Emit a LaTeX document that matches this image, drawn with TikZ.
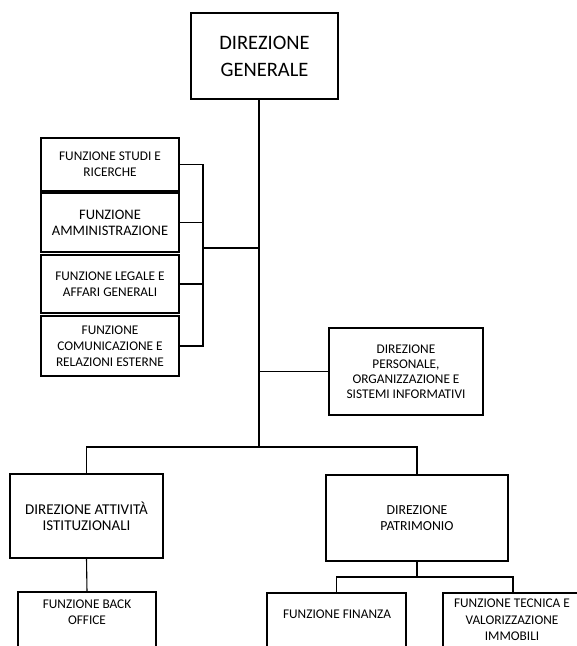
\documentclass[tikz,border=0pt]{standalone}
\usepackage{fontspec}
\setmainfont{Carlito}
\begin{document}
\begin{tikzpicture}[x=1pt,y=-1pt,
  box/.style={draw, line width=1.1pt, align=center, inner sep=0pt, outer sep=0pt,
    anchor=north west, font=\fontsize{13.3}{16}\selectfont},
  bigbox/.style={box, line width=2pt},
  topbox/.style={box, line width=2.5pt, font=\fontsize{20.5}{27}\selectfont},
  txt/.style={align=center, inner sep=0pt, font=\fontsize{13.3}{16.5}\selectfont},
  conn/.style={line width=1.1pt}]
\useasboundingbox (0,0) rectangle (577,646);
\clip (0,0) rectangle (577,646);
% boxes
\node[topbox, minimum width=147pt, minimum height=86pt] (top) at (191,13) {DIREZIONE\\GENERALE};
\node[box, minimum width=138pt, minimum height=53pt] (b1) at (41,138) {FUNZIONE STUDI E\\RICERCHE};
\node[box, minimum width=138pt, minimum height=59pt, font=\fontsize{14.5}{16}\selectfont] (b2) at (41,193) {FUNZIONE\\AMMINISTRAZIONE};
\node[box, minimum width=138pt, minimum height=58pt] (b3) at (41,255) {FUNZIONE LEGALE E\\AFFARI GENERALI};
\node[box, minimum width=138pt, minimum height=60pt] (b4) at (41,316) {FUNZIONE\\COMUNICAZIONE E\\RELAZIONI ESTERNE};
\node[box, minimum width=154pt, minimum height=87pt, font=\fontsize{13.3}{15}\selectfont] (dposi) at (329,328) {DIREZIONE\\PERSONALE,\\ORGANIZZAZIONE E\\SISTEMI INFORMATIVI};
\node[bigbox, minimum width=153pt, minimum height=84pt, font=\fontsize{15}{16}\selectfont] (dai) at (10,474) {DIREZIONE ATTIVITÀ\\ISTITUZIONALI};
\node[bigbox, minimum width=182pt, minimum height=86pt, font=\fontsize{13.8}{15.5}\selectfont] (dp) at (326,475) {DIREZIONE\\PATRIMONIO};
\node[box, minimum width=138pt, minimum height=80pt] (bo) at (18,592) {};
\node[txt] (botxt) at (87,612) {FUNZIONE BACK\\OFFICE};
\node[box, minimum width=139pt, minimum height=80pt] (fin) at (267,593) {};
\node[txt] (fintxt) at (337,614) {FUNZIONE FINANZA};
\node[box, minimum width=140pt, minimum height=80pt] (tec) at (443,593) {};
\node[txt] (tectxt) at (512,620) {FUNZIONE TECNICA E\\VALORIZZAZIONE\\IMMOBILI};
% connectors
\coordinate (brk) at (203,248);
\coordinate (split) at (259,447);
\draw[conn] (b1.east) -| (brk);
\draw[conn] (b2.east) -| (brk);
\draw[conn] (b3.east) -| (brk);
\draw[conn] (b4.east) -| (brk);
\draw[conn] (brk) -- (brk -| split);
\draw[conn] (top.south -| split) -- (split);
\draw[conn] (dposi.west) -- (dposi.west -| split);
\draw[conn] (dai.north) |- (split) -| (dp.north);
\draw[conn] (dai.south) -- (bo.north);
\draw[conn] (dp.south) -- ++(0,16) coordinate (dps);
\draw[conn] (fin.north) |- (dps) -| (tec.north);
\end{tikzpicture}
\end{document}
